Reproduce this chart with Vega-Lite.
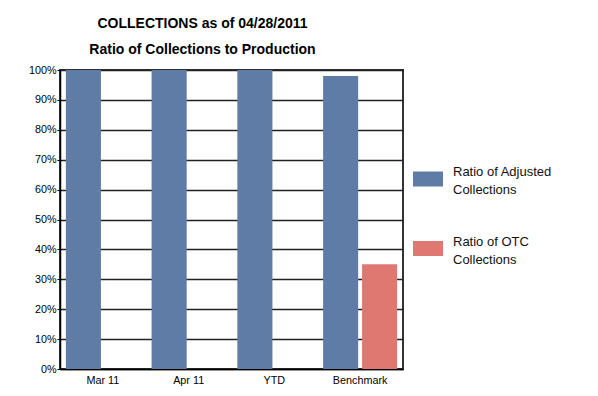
{
  "$schema": "https://vega.github.io/schema/vega-lite/v6.json",
  "width": 343,
  "height": 299,
  "autosize": {"type": "none"},
  "padding": {"left": 60, "top": 70, "right": 195, "bottom": 27},
  "background": "white",
  "title": {
    "text": ["COLLECTIONS as of 04/28/2011", "Ratio of Collections to Production"],
    "font": "Liberation Sans",
    "fontSize": 14,
    "fontWeight": "bold",
    "color": "black",
    "lineHeight": 26,
    "anchor": "middle",
    "frame": "group",
    "dx": -29,
    "offset": 7
  },
  "data": {
    "values": [
      {"period": "Mar 11", "series": "Ratio of Adjusted Collections", "value": 1.0},
      {"period": "Mar 11", "series": "Ratio of OTC Collections", "value": 0.0},
      {"period": "Apr 11", "series": "Ratio of Adjusted Collections", "value": 1.0},
      {"period": "Apr 11", "series": "Ratio of OTC Collections", "value": 0.0},
      {"period": "YTD", "series": "Ratio of Adjusted Collections", "value": 1.0},
      {"period": "YTD", "series": "Ratio of OTC Collections", "value": 0.0},
      {"period": "Benchmark", "series": "Ratio of Adjusted Collections", "value": 0.98},
      {"period": "Benchmark", "series": "Ratio of OTC Collections", "value": 0.35}
    ]
  },
  "mark": {"type": "bar"},
  "encoding": {
    "x": {
      "field": "period",
      "type": "nominal",
      "sort": ["Mar 11", "Apr 11", "YTD", "Benchmark"],
      "scale": {"paddingInner": 0, "paddingOuter": 0},
      "axis": {
        "title": null,
        "labelAngle": 0,
        "ticks": false,
        "grid": false,
        "domainColor": "black",
        "domainWidth": 1.5,
        "labelFont": "Liberation Sans",
        "labelFontSize": 10.8,
        "labelColor": "black",
        "labelPadding": 5
      }
    },
    "xOffset": {
      "field": "series",
      "type": "nominal",
      "scale": {"paddingInner": 0.1, "paddingOuter": 0.15}
    },
    "y": {
      "field": "value",
      "type": "quantitative",
      "scale": {"domain": [0, 1], "nice": false},
      "axis": {
        "title": null,
        "format": ".0%",
        "values": [0, 0.1, 0.2, 0.3, 0.4, 0.5, 0.6, 0.7, 0.8, 0.9, 1.0],
        "grid": true,
        "gridColor": "#222222",
        "gridWidth": 1.5,
        "domainColor": "black",
        "domainWidth": 1.5,
        "tickColor": "black",
        "tickSize": 3,
        "labelFont": "Liberation Sans",
        "labelFontSize": 10.8,
        "labelColor": "black",
        "labelPadding": 1
      }
    },
    "color": {
      "field": "series",
      "type": "nominal",
      "scale": {
        "domain": ["Ratio of Adjusted Collections", "Ratio of OTC Collections"],
        "range": ["#5f7ca6", "#e07872"]
      },
      "legend": {
        "title": null,
        "orient": "none",
        "legendX": 353,
        "legendY": 94,
        "padding": 0,
        "symbolType": "M-1,-0.5H1V0.5H-1Z",
        "symbolSize": 900,
        "symbolStrokeWidth": 0,
        "symbolOpacity": 1,
        "labelFont": "Liberation Sans",
        "labelFontSize": 13,
        "labelColor": "#111111",
        "labelOffset": 10,
        "labelLimit": 200,
        "labelBaseline": "bottom",
        "rowPadding": 36.5,
        "labelExpr": "datum.label == 'Ratio of Adjusted Collections' ? ['Ratio of Adjusted', 'Collections'] : ['Ratio of OTC', 'Collections']"
      }
    }
  },
  "config": {
    "view": {"stroke": "#333333", "strokeWidth": 2},
    "style": {"guide-label": {"lineHeight": 18}}
  }
}
